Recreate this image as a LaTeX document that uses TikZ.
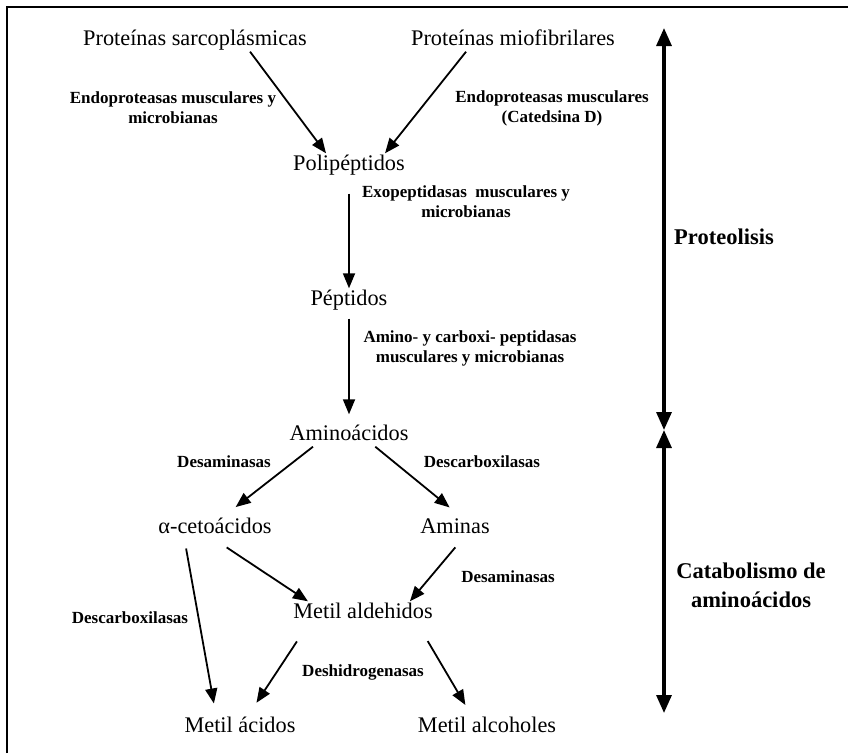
\documentclass[tikz,border=0pt]{standalone}
\usepackage{fontspec}
\setmainfont{Liberation Serif}
\usetikzlibrary{arrows.meta}
\tikzset{>={Triangle[length=15pt,width=12pt]}}
\tikzset{
  comp/.style={font=\fontsize{22.3}{26}\selectfont, inner sep=1pt, text height=16pt, text depth=5pt},
  enz/.style={font=\fontsize{17}{20}\selectfont\bfseries, align=center, inner sep=0pt},
  tit/.style={font=\fontsize{22.5}{29}\selectfont\bfseries, align=center, inner sep=0pt},
  arr/.style={->, line width=1.8pt},
  big/.style={{Triangle[length=18pt,width=15pt]}-{Triangle[length=18pt,width=15pt]}, line width=3.2pt}
}

\begin{document}
\begin{tikzpicture}[x=1pt, y=-1pt]
\useasboundingbox (0,0) rectangle (848,753);
\draw[line width=2pt] (7,753) -- (7,7) -- (848,7);
\node[comp] (sarco) at (195,40) {Proteínas sarcoplásmicas};
\node[comp] (miofib) at (513,40) {Proteínas miofibrilares};
\node[comp] (polip) at (349,165) {Polipéptidos};
\node[comp] (pept) at (349,300) {Péptidos};
\node[comp] (amino) at (349,435) {Aminoácidos};
\node[comp] (ceto) at (215,528) {α-cetoácidos};
\node[comp] (aminas) at (455,528) {Aminas};
\node[comp] (aldeh) at (363,613) {Metil aldehidos};
\node[comp] (acidos) at (240,727) {Metil ácidos};
\node[comp] (alcoh) at (487,727) {Metil alcoholes};
\node[enz] (e1) at (173,108) {Endoproteasas musculares y\\microbianas};
\node[enz] (e2) at (552,108) {Endoproteasas musculares\\(Catedsina D)};
\node[enz] (e3) at (466,202) {Exopeptidasas~ musculares y\\microbianas};
\node[enz] (e4) at (470,348) {Amino- y carboxi- peptidasas\\musculares y microbianas};
\node[enz] (e5) at (224,462) {Desaminasas};
\node[enz] (e6) at (482,462) {Descarboxilasas};
\node[enz] (e7) at (508,577) {Desaminasas};
\node[enz] (e8) at (130,618) {Descarboxilasas};
\node[enz] (e9) at (363,672) {Deshidrogenasas};
\node[tit] (t1) at (724,237) {Proteolisis};
\node[tit] (t2) at (751,585) {Catabolismo de\\aminoácidos};
\coordinate (pt) at (664,28);
\coordinate (pm) at (664,430);
\coordinate (pb) at (664,713);
\draw[arr] (sarco.-12) -- (polip.153);
\draw[arr] (miofib.-166) -- (polip.18);
\draw[arr, shorten <=17pt] (polip.south) -- (pept.north);
\draw[arr, shorten <=7pt, shorten >=9pt] (pept.south) -- (amino.north);
\draw[arr, shorten >=15pt] (amino.-162) -- (ceto.53);
\draw[arr, shorten >=14pt] (amino.-24) -- (aminas.65);
\draw[arr, shorten <=14pt] (ceto.south) -- (aldeh.168);
\draw[arr, shorten <=10pt] (aminas.-60) -- (aldeh.14);
\draw[arr, shorten <=9pt, shorten >=12pt] (ceto.-159) -- (acidos.154);
\draw[arr, shorten <=20pt, shorten >=15pt] (aldeh.-168) -- (acidos.55);
\draw[arr, shorten <=19pt, shorten >=12pt] (aldeh.-12) -- (alcoh.143);
\draw[big] (pt) -- (pm);
\draw[big] (pm) -- (pb);
\end{tikzpicture}
\end{document}
